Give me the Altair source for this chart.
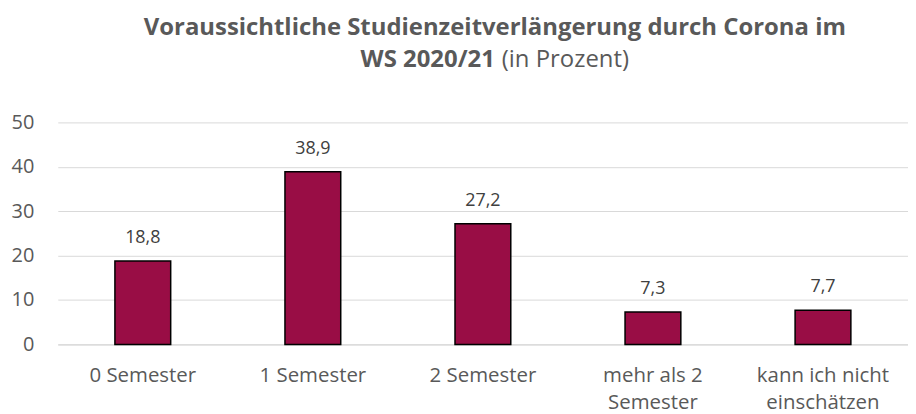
import altair as alt
import pandas as pd

categories = ["0 Semester", "1 Semester", "2 Semester", "mehr als 2|Semester", "kann ich nicht|einschätzen"]
values = [18.8, 38.9, 27.2, 7.3, 7.7]
y_ticks = [0, 10, 20, 30, 40, 50]

title_line1 = "Voraussichtliche Studienzeitverlängerung durch Corona im"
title_line2_bold = "WS 2020/21"
title_line2_normal = "(in Prozent)"

df = pd.DataFrame({"cat": categories, "value": values})

FONT = "Open Sans"
GREY = "#595959"

W, H = 854, 223

base = alt.Chart(df).encode(
    x=alt.X("cat:N", sort=categories,
            scale=alt.Scale(paddingInner=0.672, paddingOuter=0.336),
            axis=alt.Axis(title=None, labelAngle=0, labelFont=FONT, labelFontSize=20.5,
                          labelColor=GREY, labelPadding=37, ticks=False,
                          domainColor="#d9d9d9", domainWidth=1.2,
                          labelExpr="split(datum.label, '|')", labelLineHeight=27,
                          labelBaseline="alphabetic")),
)

bars = base.mark_bar(color="#990D45", stroke="black", strokeWidth=1.5).encode(
    y=alt.Y("value:Q", scale=alt.Scale(domain=[0, 50]),
            axis=alt.Axis(title=None, values=y_ticks, labelFont=FONT, labelFontSize=20,
                          labelColor=GREY, labelPadding=24, ticks=False, domain=False,
                          gridColor="#d9d9d9", gridWidth=1))
)

labels = base.mark_text(font=FONT, fontSize=18, color="#404040", dy=-18, baseline="alphabetic").transform_calculate(
    lab="replace(format(datum.value, '.1f'), '.', ',')"
).encode(y="value:Q", text="lab:N")

t1 = alt.Chart(pd.DataFrame({"t": [title_line1]})).mark_text(
    font=FONT, fontSize=24, fontWeight="bold", color=GREY, align="center", baseline="alphabetic"
).encode(x=alt.value(439), y=alt.value(-88), text="t:N")

t2a = alt.Chart(pd.DataFrame({"t": [title_line2_bold]})).mark_text(
    font=FONT, fontSize=24, fontWeight="bold", color=GREY, align="right", baseline="alphabetic"
).encode(x=alt.value(439), y=alt.value(-56), text="t:N")

t2b = alt.Chart(pd.DataFrame({"t": [title_line2_normal]})).mark_text(
    font=FONT, fontSize=24, fontWeight="normal", color=GREY, align="left", baseline="alphabetic"
).encode(x=alt.value(446), y=alt.value(-56), text="t:N")

chart = alt.layer(bars, labels, t1, t2a, t2b).properties(
    width=W, height=H,
    autosize=alt.AutoSizeParams(type="none"),
    padding={"left": 50, "top": 114, "right": 0, "bottom": 69},
).configure_view(stroke=None)

chart.save("out.html", embed_options={"renderer": "svg", "actions": False})
